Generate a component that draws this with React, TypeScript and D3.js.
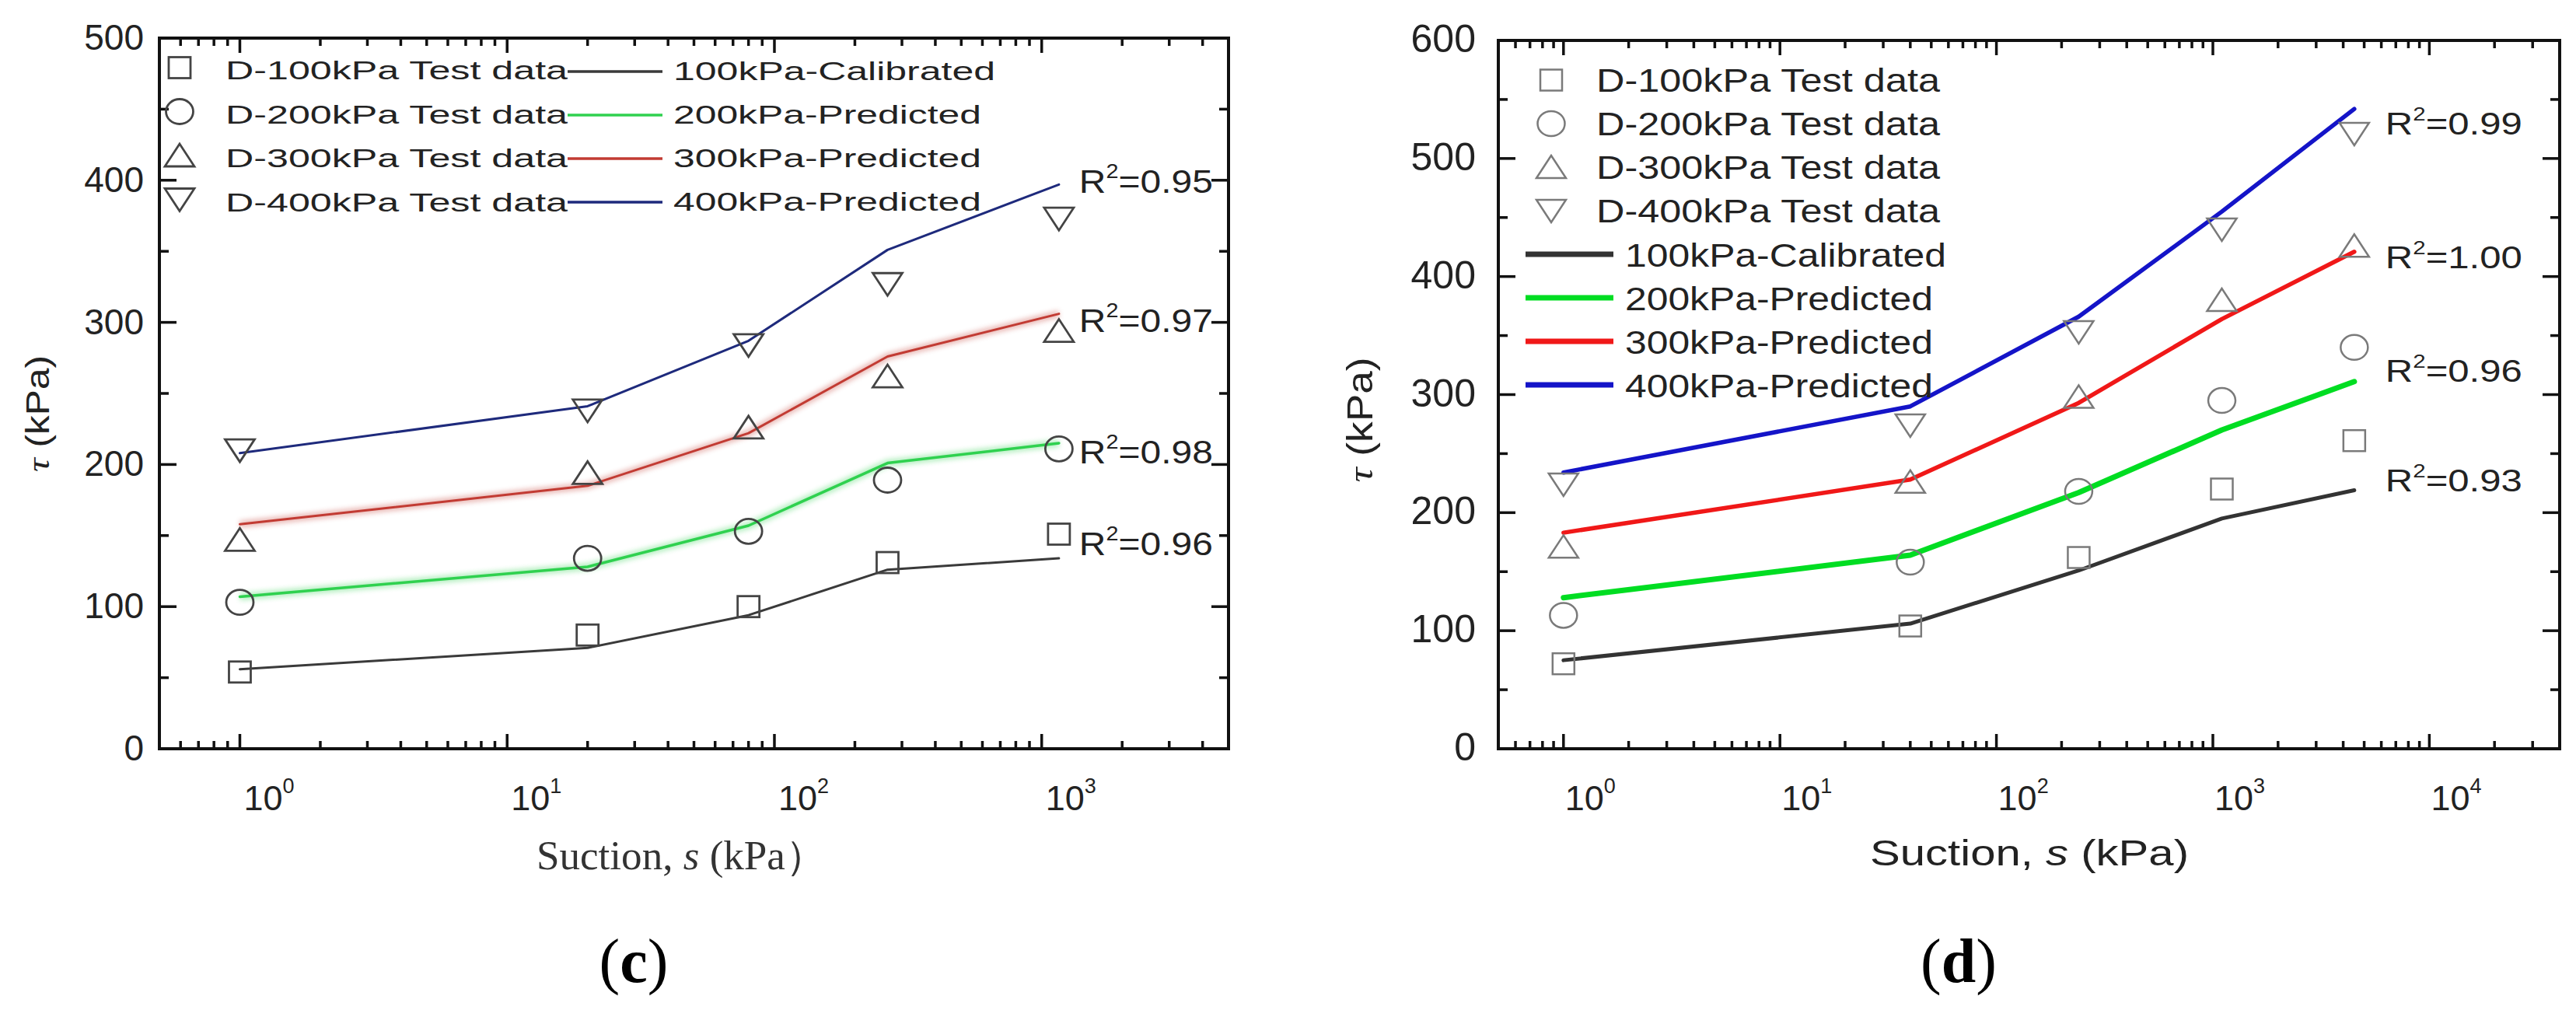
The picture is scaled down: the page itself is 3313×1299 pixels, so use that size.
import React from 'react';
import * as d3 from 'd3';

// ---- panel (c) ----
const suctionC = [1, 20, 80, 265, 1160];
const c100Test = [54, 80, 100, 131, 151];
const c200Test = [103, 134, 153, 189, 211];
const c300Test = [147, 194, 226, 262, 294];
const c400Test = [210, 238, 284, 327, 373];
const c100Model = [56, 71, 94, 126, 134];
const c200Model = [107, 128, 157, 201, 215];
const c300Model = [158, 185, 222, 276, 306];
const c400Model = [208, 241, 287, 351, 397];
const cR2 = ['0.96', '0.98', '0.97', '0.95'];
const cR2At = [136, 201, 293, 391];
const cYTicks = [0, 100, 200, 300, 400, 500];
const cDecades = [0, 1, 2, 3];

// ---- panel (d) ----
const suctionD = [1, 40, 240, 1100, 4500];
const d100Test = [72, 104, 162, 220, 261];
const d200Test = [113, 158, 218, 295, 340];
const d300Test = [171, 226, 298, 380, 426];
const d400Test = [224, 274, 353, 440, 521];
const d100Model = [75, 106, 151, 195, 219];
const d200Model = [128, 164, 217, 270, 311];
const d300Model = [183, 228, 293, 364, 421];
const d400Model = [234, 290, 366, 455, 542];
const dR2 = ['0.93', '0.96', '1.00', '0.99'];
const dR2At = [218, 311, 407, 520];
const dYTicks = [0, 100, 200, 300, 400, 500, 600];
const dDecades = [0, 1, 2, 3, 4];

const testLabels = ['D-100kPa Test data', 'D-200kPa Test data', 'D-300kPa Test data', 'D-400kPa Test data'];
const modelLabels = ['100kPa-Calibrated', '200kPa-Predicted', '300kPa-Predicted', '400kPa-Predicted'];
const markerKinds = ['square', 'circle', 'up', 'down'];

const SANS = '"Liberation Sans", Arial, Helvetica, sans-serif';
const SERIF = '"Liberation Serif", "Times New Roman", serif';

type Layout = {
  left: number; right: number; top: number; bottom: number;
  xDomain: [number, number]; yMax: number;
  yTickFont: number; yLabelRight: number;
  xLabelShift: number; xLabelBase: number;
  lineColors: string[]; lineWidths: number[]; glow: boolean[];
  legendLineWidth: number;
  markerStroke: string; markerWidth: number;
  r2Font: number; r2Dx: number; r2Len: number;
};

function Marker({ kind, x, y, stroke, sw }: { kind: string; x: number; y: number; stroke: string; sw: number }) {
  if (kind === 'square') return <rect x={x - 14} y={y - 13.5} width={28} height={27} fill="none" stroke={stroke} strokeWidth={sw} />;
  if (kind === 'circle') return <ellipse cx={x} cy={y} rx={17.5} ry={16} fill="none" stroke={stroke} strokeWidth={sw} />;
  if (kind === 'up')
    return <polygon points={`${x},${y - 15} ${x - 19},${y + 14} ${x + 19},${y + 14}`} fill="none" stroke={stroke} strokeWidth={sw} />;
  return <polygon points={`${x - 19},${y - 14} ${x + 19},${y - 14} ${x},${y + 15}`} fill="none" stroke={stroke} strokeWidth={sw} />;
}

function Panel({ id, L, suction, tests, models, r2, r2At, yTicks, decades, children }: any) {
  const x = d3.scaleLog().domain(L.xDomain).range([L.left, L.right]);
  const y = d3.scaleLinear().domain([0, L.yMax]).range([L.bottom, L.top]);
  const line = d3.line<number>().x((_, i) => x(suction[i])).y((d) => y(d));

  const minor: number[] = [];
  const lo = Math.floor(Math.log10(L.xDomain[0]));
  const hi = Math.ceil(Math.log10(L.xDomain[1]));
  for (let e = lo; e <= hi; e++) {
    for (let k = 2; k <= 9; k++) {
      const v = k * Math.pow(10, e);
      if (v > L.xDomain[0] && v < L.xDomain[1]) minor.push(v);
    }
  }
  const yMinor = d3.range(50, L.yMax, 100);
  const tk = '#111';

  return (
    <g>
      <defs>
        <filter id={`glow-${id}`} x="-5%" y="-20%" width="110%" height="140%">
          <feGaussianBlur stdDeviation="3" />
        </filter>
      </defs>
      {/* model lines */}
      {models.map((m: number[], i: number) => (
        <g key={`m${i}`}>
          {L.glow[i] && (
            <path d={line(m) as string} fill="none" stroke={L.lineColors[i]} strokeWidth={L.lineWidths[i] + 6}
              opacity={0.35} filter={`url(#glow-${id})`} />
          )}
          <path d={line(m) as string} fill="none" stroke={L.lineColors[i]} strokeWidth={L.lineWidths[i]}
            strokeLinejoin="round" strokeLinecap="round" />
        </g>
      ))}
      {/* test data */}
      {tests.map((t: number[], i: number) =>
        t.map((v, j) => (
          <Marker key={`t${i}-${j}`} kind={markerKinds[i]} x={x(suction[j])} y={y(v)} stroke={L.markerStroke} sw={L.markerWidth} />
        ))
      )}
      {/* R² labels */}
      {r2.map((r: string, i: number) => (
        <text key={`r${i}`} x={x(suction[suction.length - 1]) + L.r2Dx} y={y(r2At[i])} fontFamily={SANS}
          fontSize={L.r2Font} fill="#222" textLength={L.r2Len} lengthAdjust="spacingAndGlyphs">
          R<tspan fontSize={L.r2Font * 0.6} dy={-L.r2Font * 0.45}>2</tspan>
          <tspan dy={L.r2Font * 0.45}>={r}</tspan>
        </text>
      ))}
      {/* frame */}
      <rect x={L.left} y={L.top} width={L.right - L.left} height={L.bottom - L.top} fill="none" stroke={tk} strokeWidth={4} />
      {/* y ticks */}
      {yTicks.map((v: number) => (
        <g key={`y${v}`}>
          <line x1={L.left} x2={L.left + 22} y1={y(v)} y2={y(v)} stroke={tk} strokeWidth={3.5} />
          <line x1={L.right} x2={L.right - 22} y1={y(v)} y2={y(v)} stroke={tk} strokeWidth={3.5} />
          <text x={L.yLabelRight} y={y(v) + 15} textAnchor="end" fontFamily={SANS} fontSize={L.yTickFont} fill="#222">{v}</text>
        </g>
      ))}
      {yMinor.map((v: number) => (
        <g key={`ym${v}`}>
          <line x1={L.left} x2={L.left + 12} y1={y(v)} y2={y(v)} stroke={tk} strokeWidth={3.5} />
          <line x1={L.right} x2={L.right - 12} y1={y(v)} y2={y(v)} stroke={tk} strokeWidth={3.5} />
        </g>
      ))}
      {/* x ticks */}
      {decades.map((e: number) => {
        const px = x(Math.pow(10, e));
        return (
          <g key={`x${e}`}>
            <line x1={px} x2={px} y1={L.bottom} y2={L.bottom - 19} stroke={tk} strokeWidth={3.5} />
            <line x1={px} x2={px} y1={L.top} y2={L.top + 19} stroke={tk} strokeWidth={3.5} />
            <text x={px + L.xLabelShift} y={L.xLabelBase} fontFamily={SANS} fontSize={45} fill="#222">
              10<tspan fontSize={27} dy={-22}>{e}</tspan>
            </text>
          </g>
        );
      })}
      {minor.map((v) => (
        <g key={`xm${v}`}>
          <line x1={x(v)} x2={x(v)} y1={L.bottom} y2={L.bottom - 10} stroke={tk} strokeWidth={3.5} />
          <line x1={x(v)} x2={x(v)} y1={L.top} y2={L.top + 10} stroke={tk} strokeWidth={3.5} />
        </g>
      ))}
      {children}
    </g>
  );
}

const layoutC: Layout = {
  left: 205, right: 1580, top: 49, bottom: 963,
  xDomain: [0.5, 5000], yMax: 500,
  yTickFont: 46, yLabelRight: 185,
  xLabelShift: 5, xLabelBase: 1042,
  lineColors: ['#3a3a3a', '#2fd14f', '#c23b33', '#1e2a7c'],
  lineWidths: [3, 3.5, 3, 3], glow: [false, true, true, false],
  legendLineWidth: 3.5,
  markerStroke: '#444', markerWidth: 2.8,
  r2Font: 42, r2Dx: 26, r2Len: 172,
};

const layoutD: Layout = {
  left: 1927, right: 3292, top: 52, bottom: 963,
  xDomain: [0.5, 40000], yMax: 600,
  yTickFont: 50, yLabelRight: 1898,
  xLabelShift: 2, xLabelBase: 1042,
  lineColors: ['#333333', '#00dd22', '#f01818', '#1414c8'],
  lineWidths: [5, 7, 5.5, 5.5], glow: [false, false, false, false],
  legendLineWidth: 7,
  markerStroke: '#7a7a7a', markerWidth: 2.5,
  r2Font: 40, r2Dx: 40, r2Len: 176,
};

export default function App() {
  const cTests = [c100Test, c200Test, c300Test, c400Test];
  const cModels = [c100Model, c200Model, c300Model, c400Model];
  const dTests = [d100Test, d200Test, d300Test, d400Test];
  const dModels = [d100Model, d200Model, d300Model, d400Model];

  return (
    <svg width={3313} height={1299} style={{ position: 'absolute', left: 0, top: 0, background: '#fff' }}>
      <rect width={3313} height={1299} fill="#fff" />

      <Panel id="c" L={layoutC} suction={suctionC} tests={cTests} models={cModels} r2={cR2} r2At={cR2At}
        yTicks={cYTicks} decades={cDecades}>
        {/* legend (c): two columns */}
        {testLabels.map((t, i) => (
          <g key={`lc${i}`}>
            <Marker kind={markerKinds[i]} x={231} y={87 + i * 56.5} stroke="#444" sw={2.8} />
            <text x={290} y={102 + i * 56.5} fontFamily={SANS} fontSize={33} fill="#222" textLength={440}
              lengthAdjust="spacingAndGlyphs">{t}</text>
          </g>
        ))}
        {modelLabels.map((t, i) => (
          <g key={`lcm${i}`}>
            <line x1={730} x2={852} y1={92 + i * 56} y2={92 + i * 56} stroke={layoutC.lineColors[i]} strokeWidth={3.5} />
            <text x={866} y={103 + i * 56} fontFamily={SANS} fontSize={33} fill="#222"
              textLength={i === 0 ? 414 : 396} lengthAdjust="spacingAndGlyphs">{t}</text>
          </g>
        ))}
        <text transform="translate(63,532) rotate(-90)" textAnchor="middle" fontFamily={SANS} fontSize={42} fill="#222"
          textLength={150} lengthAdjust="spacingAndGlyphs">
          <tspan fontFamily={SERIF} fontStyle="italic">τ</tspan> (kPa)
        </text>
        <text x={690} y={1118} fontFamily={SERIF} fontSize={52} fill="#333" textLength={373} lengthAdjust="spacingAndGlyphs">
          Suction, <tspan fontStyle="italic">s</tspan> (kPa）
        </text>
        <text x={815} y={1263} textAnchor="middle" fontFamily={SERIF} fontSize={80} fill="#000">
          (<tspan fontWeight="bold">c</tspan>)
        </text>
      </Panel>

      <Panel id="d" L={layoutD} suction={suctionD} tests={dTests} models={dModels} r2={dR2} r2At={dR2At}
        yTicks={dYTicks} decades={dDecades}>
        {/* legend (d): single column */}
        {testLabels.map((t, i) => (
          <g key={`ld${i}`}>
            <Marker kind={markerKinds[i]} x={1995} y={103 + i * 56} stroke="#7a7a7a" sw={2.5} />
            <text x={2053} y={118 + i * 56} fontFamily={SANS} fontSize={42} fill="#222" textLength={442}
              lengthAdjust="spacingAndGlyphs">{t}</text>
          </g>
        ))}
        {modelLabels.map((t, i) => (
          <g key={`ldm${i}`}>
            <line x1={1962} x2={2075} y1={327 + i * 56} y2={327 + i * 56} stroke={layoutD.lineColors[i]}
              strokeWidth={layoutD.legendLineWidth} />
            <text x={2090} y={343 + i * 56} fontFamily={SANS} fontSize={42} fill="#222"
              textLength={i === 0 ? 413 : 396} lengthAdjust="spacingAndGlyphs">{t}</text>
          </g>
        ))}
        <text transform="translate(1765,540) rotate(-90)" textAnchor="middle" fontFamily={SANS} fontSize={46} fill="#222"
          textLength={161} lengthAdjust="spacingAndGlyphs">
          <tspan fontFamily={SERIF} fontStyle="italic">τ</tspan> (kPa)
        </text>
        <text x={2405} y={1113} fontFamily={SANS} fontSize={46} fill="#222" textLength={410} lengthAdjust="spacingAndGlyphs">
          Suction, <tspan fontStyle="italic">s</tspan> (kPa)
        </text>
        <text x={2519} y={1263} textAnchor="middle" fontFamily={SERIF} fontSize={80} fill="#000">
          (<tspan fontWeight="bold">d</tspan>)
        </text>
      </Panel>
    </svg>
  );
}
